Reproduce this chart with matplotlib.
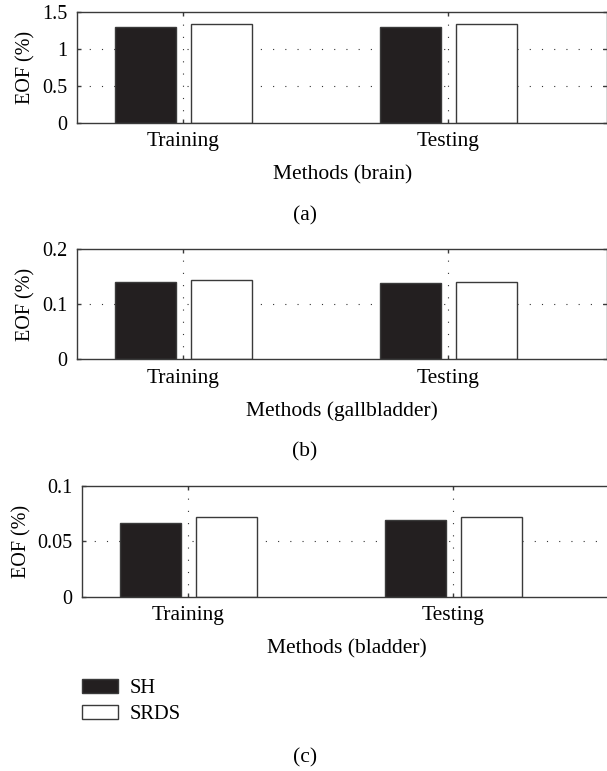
import matplotlib

matplotlib.use("Agg")
import matplotlib.pyplot as plt
import numpy as np
from matplotlib.patches import Patch

plt.rcParams["font.family"] = ["Liberation Serif", "DejaVu Serif"]

methods = ["Training", "Testing"]
series_names = ["SH", "SRDS"]

# EOF (%) per organ, one list per series
brain_sh = [1.30, 1.30]
brain_srds = [1.337, 1.337]
gallbladder_sh = [0.140, 0.138]
gallbladder_srds = [0.144, 0.1405]
bladder_sh = [0.0663, 0.0693]
bladder_srds = [0.0723, 0.0723]

organs = ["brain", "gallbladder", "bladder"]
panel_tags = ["(a)", "(b)", "(c)"]
y_limits = [1.5, 0.2, 0.1]
y_ticks = [[0, 0.5, 1, 1.5], [0, 0.1, 0.2], [0, 0.05, 0.1]]
y_tick_labels = [["0", "0.5", "1", "1.5"], ["0", "0.1", "0.2"], ["0", "0.05", "0.1"]]

W, H = 607, 771
fig = plt.figure(figsize=(W / 100, H / 100), dpi=100)

# axes boxes in pixels: left, top, bottom; categories are 265 px apart
boxes = [(77.3, 12.3, 122.7), (77.3, 249, 359), (82.3, 486, 596.7)]
ylabel_right = [35, 35, 31]
tag_y = [216, 452, 758]
step = 265

edge = "#3a3a3a"
dark = "#231f20"
bar_w = 0.23
offset = 0.143
x = np.arange(1, len(methods) + 1)
dots = (0, (1, 10))

data = [(brain_sh, brain_srds), (gallbladder_sh, gallbladder_srds), (bladder_sh, bladder_srds)]

for i, (sh, srds) in enumerate(data):
    left, top, bottom = boxes[i]
    width = 2 * step
    ax = fig.add_axes([left / W, (H - bottom) / H, width / W, (bottom - top) / H])
    ax.set_xlim(0.6, 2.6)
    ax.set_ylim(0, y_limits[i])

    for yv in y_ticks[i][1:-1]:
        ax.axhline(yv, color="#333333", lw=0.8, linestyle=dots, zorder=0)
    for xv in x:
        ax.axvline(xv, color="#333333", lw=0.8, linestyle=dots, zorder=3)

    ax.bar(x - offset, sh, bar_w, color=dark, edgecolor=edge, lw=1.0, zorder=2)
    ax.bar(x + offset, srds, bar_w, color="white", edgecolor=edge, lw=1.0, zorder=2)

    ax.set_xticks(x)
    ax.set_xticklabels(methods, fontsize=15.5)
    ax.set_yticks(y_ticks[i])
    ax.set_yticklabels(y_tick_labels[i], fontsize=14.5)
    ax.tick_params(direction="in", length=3, width=1.0, color=edge, top=True, right=True)
    ax.tick_params(axis="y", pad=7)
    ax.tick_params(axis="x", pad=7)
    for s in ax.spines.values():
        s.set_color(edge)
        s.set_linewidth(1.0)

    ax.set_xlabel(f"Methods ({organs[i]})", fontsize=15.5, labelpad=10)
    ax.set_ylabel("EOF (%)", fontsize=14.5)
    ax.yaxis.set_label_coords((ylabel_right[i] - left) / width, 0.5)

    fig.text(305 / W, 1 - tag_y[i] / H, panel_tags[i], ha="center", va="center", fontsize=15.5)

handles = [
    Patch(facecolor=dark, edgecolor=edge, lw=1.0),
    Patch(facecolor="white", edgecolor=edge, lw=1.0),
]
fig.legend(handles, series_names, loc="upper left", bbox_to_anchor=(82.3 / W, 1 - 679 / H),
           frameon=False, fontsize=14.8, handlelength=1.72, handleheight=0.65,
           handletextpad=0.6, labelspacing=0.35, borderaxespad=0, borderpad=0)

fig.savefig("out.png", dpi=100)
